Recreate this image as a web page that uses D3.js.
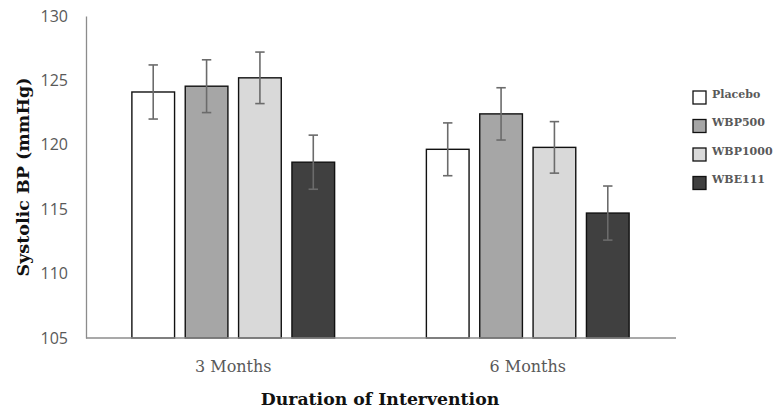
<!DOCTYPE html>
<html><head><meta charset="utf-8">
<script src="https://cdn.jsdelivr.net/npm/d3@7"></script>
<style>body{margin:0;background:#fff}</style>
</head><body><svg id="c" width="779" height="414"></svg>
<script>
const categories = ["3 Months", "6 Months"];
const seriesNames = ["Placebo", "WBP500", "WBP1000", "WBE111"];
const placebo = [124.1, 119.65];
const wbp500 = [124.55, 122.4];
const wbp1000 = [125.2, 119.8];
const wbe111 = [118.65, 114.7];
const errPlacebo = [2.1, 2.05];
const errWbp500 = [2.05, 2.03];
const errWbp1000 = [2.0, 2.0];
const errWbe111 = [2.1, 2.1];
const yTicks = [105, 110, 115, 120, 125, 130];
const colors = ["#ffffff", "#a6a6a6", "#d9d9d9", "#404040"];

(function () {
const values = [placebo, wbp500, wbp1000, wbe111];
const errs = [errPlacebo, errWbp500, errWbp1000, errWbe111];
const serif = "DejaVu Serif, serif";

const svg = d3.select("#c");
const mLeft = 86, mRight = 675, mTop = 16, mBottom = 338;

const x0 = d3.scaleBand().domain(categories).range([mLeft, mRight]).paddingInner(0).paddingOuter(0);
const x1 = d3.scaleBand().domain(seriesNames).range([0, x0.bandwidth()]).paddingInner(0.2).paddingOuter(0.86);
const y = d3.scaleLinear().domain([105, 130]).range([mBottom, mTop]);

// y axis
const yAxis = svg.append("g").attr("transform", `translate(${mLeft},0)`)
  .call(d3.axisLeft(y).tickValues(yTicks).tickSize(0).tickPadding(18));
yAxis.select(".domain").attr("stroke", "#8c8c8c").attr("stroke-width", 1.3);
yAxis.selectAll("text").attr("font-family", "Open Sans, sans-serif").attr("font-size", 16).attr("fill", "#595959");

// bars
categories.forEach((cat, ci) => {
  seriesNames.forEach((s, si) => {
    const v = values[si][ci];
    const bx = x0(cat) + x1(s);
    svg.append("rect").attr("x", bx).attr("y", y(v)).attr("width", x1.bandwidth())
      .attr("height", y(105) - y(v)).attr("fill", colors[si]).attr("stroke", "#111").attr("stroke-width", 1.4);
  });
});

// baseline
svg.append("line").attr("x1", mLeft).attr("x2", mRight + 1).attr("y1", y(105)).attr("y2", y(105))
  .attr("stroke", "#8c8c8c").attr("stroke-width", 1.3);

// error bars
categories.forEach((cat, ci) => {
  seriesNames.forEach((s, si) => {
    const v = values[si][ci], e = errs[si][ci];
    const cx = x0(cat) + x1(s) + x1.bandwidth() / 2;
    const g = svg.append("g").attr("stroke", "#6b6b6b").attr("stroke-width", 1.6);
    g.append("line").attr("x1", cx).attr("x2", cx).attr("y1", y(v + e)).attr("y2", y(v - e));
    g.append("line").attr("x1", cx - 4.7).attr("x2", cx + 4.7).attr("y1", y(v + e)).attr("y2", y(v + e));
    g.append("line").attr("x1", cx - 4.7).attr("x2", cx + 4.7).attr("y1", y(v - e)).attr("y2", y(v - e));
  });
});

// category labels
svg.selectAll(".cat").data(categories).enter().append("text")
  .attr("x", d => x0(d) + x0.bandwidth() / 2).attr("y", 372)
  .attr("text-anchor", "middle").attr("font-family", serif).attr("font-size", 16)
  .attr("fill", "#595959").text(d => d);

// axis titles
svg.append("text").attr("x", 380).attr("y", 405).attr("text-anchor", "middle")
  .attr("font-family", serif).attr("font-weight", "bold").attr("font-size", 17.3)
  .attr("fill", "#111").text("Duration of Intervention");
svg.append("text").attr("transform", "translate(29,177) rotate(-90)").attr("text-anchor", "middle")
  .attr("font-family", serif).attr("font-weight", "bold").attr("font-size", 17.5)
  .attr("fill", "#111").text("Systolic BP (mmHg)");

// legend
const lg = svg.append("g");
seriesNames.forEach((s, i) => {
  const ly = 91 + i * 28.5;
  lg.append("rect").attr("x", 693).attr("y", ly).attr("width", 13).attr("height", 13)
    .attr("fill", colors[i]).attr("stroke", "#111").attr("stroke-width", 1.3);
  lg.append("text").attr("x", 712).attr("y", ly + 6.5).attr("font-family", serif)
    .attr("font-weight", "bold").attr("font-size", 11).attr("fill", "#595959").text(s);
});
})();
</script></body></html>
